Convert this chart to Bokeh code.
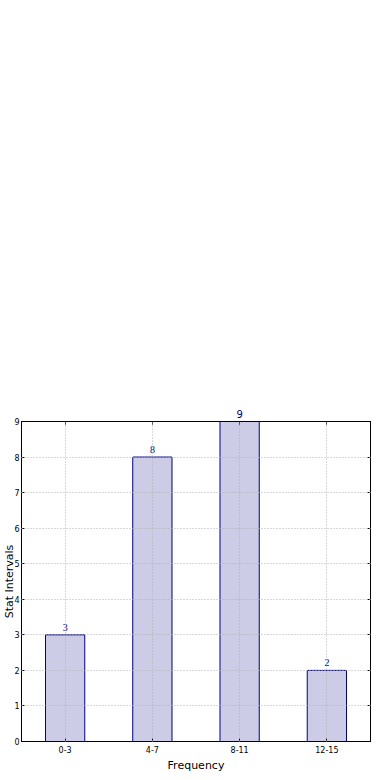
from bokeh.plotting import figure
from bokeh.models import ColumnDataSource, LabelSet, Range1d, FixedTicker, LinearAxis
from bokeh.embed import file_html
from bokeh.resources import INLINE

categories = ["0-3", "4-7", "8-11", "12-15"]
counts = [3, 8, 9, 2]
y_ticks = [0, 1, 2, 3, 4, 5, 6, 7, 8, 9]
y_max = 9

positions = [i + 0.5 for i in range(len(categories))]
# bars reaching the top of the frame get their value label on the top axis
inside = [c < y_max for c in counts]
source = ColumnDataSource(dict(
    x=[x for x, k in zip(positions, inside) if k],
    top=[c for c, k in zip(counts, inside) if k],
    label=[str(c) for c, k in zip(counts, inside) if k]))
bars = ColumnDataSource(dict(x=positions, top=counts))

FONT = "DejaVu Sans"

p = figure(width=390, height=780, output_backend="svg", toolbar_location=None,
           x_range=Range1d(0, len(categories)), y_range=Range1d(0, y_max),
           min_border_left=19, min_border_right=20, min_border_top=421, min_border_bottom=39)
p.background_fill_color = "white"
p.border_fill_color = "white"
p.outline_line_color = "black"
p.outline_line_width = 1

p.vbar(x="x", top="top", width=0.45, bottom=0, source=bars,
       fill_color="navy", fill_alpha=0.2, line_color="navy", line_width=1)

xa = p.xaxis[0]
xa.ticker = FixedTicker(ticks=positions)
xa.major_label_overrides = {pos: c for pos, c in zip(positions, categories)}
xa.axis_label = "Frequency"
xa.axis_label_text_font = FONT
xa.axis_label_text_font_size = "11px"
xa.axis_label_text_font_style = "normal"
xa.axis_label_text_color = "black"
xa.axis_label_standoff = 3
xa.major_label_text_font = FONT
xa.major_label_text_font_size = "8px"
xa.major_label_text_color = "black"
xa.major_label_standoff = 4
xa.major_tick_in = 3
xa.major_tick_out = 0
xa.minor_tick_line_color = None
xa.axis_line_color = "black"

ya = p.yaxis[0]
ya.ticker = FixedTicker(ticks=y_ticks)
ya.axis_label = "Stat Intervals"
ya.axis_label_text_font = FONT
ya.axis_label_text_font_size = "11px"
ya.axis_label_text_font_style = "normal"
ya.axis_label_text_color = "black"
ya.axis_label_standoff = -5
ya.major_label_text_font = FONT
ya.major_label_text_font_size = "8px"
ya.major_label_text_color = "black"
ya.major_label_standoff = 2
ya.major_tick_in = 3
ya.major_tick_out = 0
ya.minor_tick_line_color = None
ya.axis_line_color = "black"

# ticks on right and top like matplotlib
ra = LinearAxis(ticker=FixedTicker(ticks=y_ticks), major_label_text_alpha=0,
                major_label_text_font_size="1px", major_tick_in=3, major_tick_out=0,
                minor_tick_line_color=None, axis_line_color="black")
p.add_layout(ra, "right")
ta = LinearAxis(ticker=FixedTicker(ticks=positions), major_tick_in=3, major_tick_out=0,
                minor_tick_line_color=None, axis_line_color="black",
                major_label_overrides={pos: ("" if k else str(c))
                                       for pos, c, k in zip(positions, counts, inside)},
                major_label_text_font=FONT, major_label_text_font_size="10px",
                major_label_text_color="navy", major_label_standoff=4)
p.add_layout(ta, "above")

for g in (p.xgrid[0], p.ygrid[0]):
    g.grid_line_color = "#b0b0b0"
    g.grid_line_dash = "1 2"
    g.grid_line_width = 1
    g.level = "overlay"
p.xgrid[0].ticker = FixedTicker(ticks=positions)
p.ygrid[0].ticker = FixedTicker(ticks=y_ticks)

labels = LabelSet(x="x", y="top", text="label", source=source, text_align="center",
                  text_baseline="bottom", y_offset=4, text_font=FONT,
                  text_font_size="10px", text_color="navy")
p.add_layout(labels)

open("out.html", "w").write(file_html(p, INLINE))
